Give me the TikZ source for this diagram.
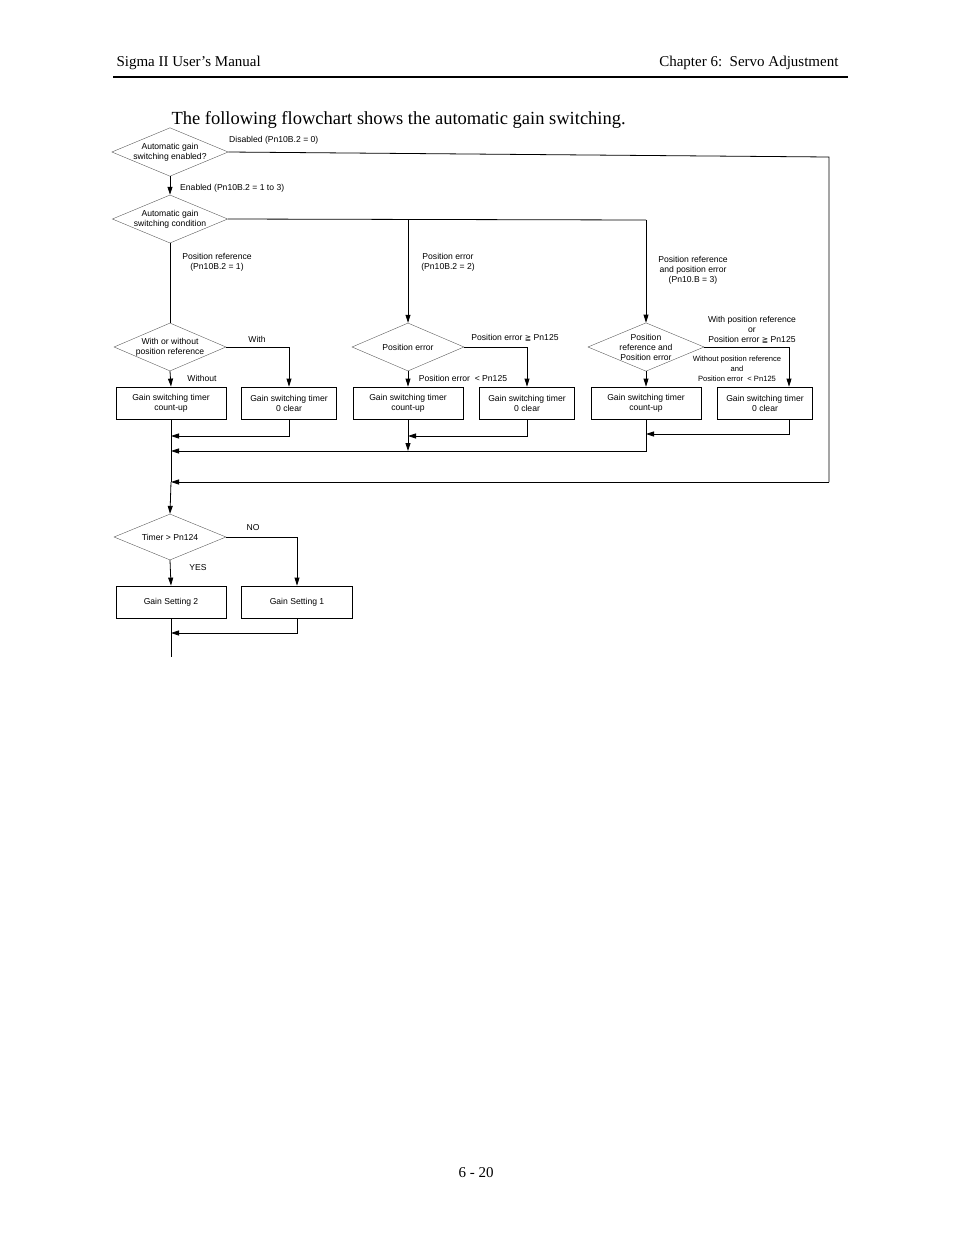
\documentclass[tikz,border=0pt]{standalone}
\usepackage{fontspec}
\setmainfont{Liberation Serif}
\newfontfamily\fcfont{Liberation Sans}
\newfontfamily\symfont{DejaVu Sans}
\usetikzlibrary{shapes.geometric,arrows.meta}
\begin{document}
\begin{tikzpicture}[x=1pt,y=-1pt,
  fc/.style={font=\fcfont\fontsize{8.6}{10}\selectfont,align=center,inner sep=0pt},
  dia/.style={fc,shape=diamond,draw=black!70,line width=0.35pt,minimum width=112pt,minimum height=46pt,shape aspect=2.4},
  bx/.style={fc,draw,line width=0.8pt,minimum width=110pt,minimum height=32pt},
  bxs/.style={bx,minimum width=95pt},
  ln/.style={line width=0.8pt},
  ar/.style={ln,-{Triangle[length=8pt,width=5pt]}},
  lb/.style={fc},
  lbs/.style={fc,font=\fcfont\fontsize{7.6}{10}\selectfont}]
\useasboundingbox (0,0) rectangle (954,1235);
\node[anchor=base west,font=\fontsize{15}{18}\selectfont] (h1) at (113,66) {Sigma II User’s Manual};
\node[anchor=base east,font=\fontsize{15}{18}\selectfont] (h2) at (842,66) {Chapter 6:\ \ Servo Adjustment};
\draw[line width=1.2pt] (113,77) -- (848,77);
\node[anchor=base west,font=\fontsize{18.5}{22}\selectfont] (title) at (168,124) {The following flowchart shows the automatic gain switching.};
\node[font=\fontsize{15}{18}\selectfont] (foot) at (476,1173) {6 - 20};

% diamonds
\node[dia] (d1) at (170,152) {Automatic gain\\switching enabled?};
\node[dia] (d2) at (170,219) {Automatic gain\\switching condition};
\node[dia,minimum height=48pt] (d3) at (170,347) {With or without\\position reference};
\node[dia,minimum height=48pt] (d4) at (408,347) {Position error};
\node[dia,minimum height=48pt] (d5) at (646,347) {Position\\reference and\\Position error};
\node[dia] (d6) at (170,537) {Timer > Pn124};

% boxes
\node[bx] (b1) at (171,403) {Gain switching timer\\count-up};
\node[bxs] (b2) at (289,403) {Gain switching timer\\0 clear};
\node[bx] (b3) at (408,403) {Gain switching timer\\count-up};
\node[bxs] (b4) at (527,403) {Gain switching timer\\0 clear};
\node[bx] (b5) at (646,403) {Gain switching timer\\count-up};
\node[bxs] (b6) at (765,403) {Gain switching timer\\0 clear};
\node[bx] (g2) at (171,602) {Gain Setting 2};
\node[bxs,minimum width=111pt] (g1) at (297,602) {Gain Setting 1};

% coordinates
\coordinate (r1) at (829,157);
\coordinate (r2) at (829,482);
\coordinate (m482) at (171,482);
\coordinate (c408) at (408,220);
\coordinate (c646) at (646,220);
\coordinate (j436) at (171,436);
\coordinate (k436) at (408,436);
\coordinate (j451) at (171,451);
\coordinate (k451) at (408,451);
\coordinate (p434) at (646,434);
\coordinate (p451) at (646,451);
\coordinate (y633) at (171,633);
\coordinate (end) at (171,657);

% connectors
\draw[ln] (d1.east) -- (r1) -- (r2);
\draw[ar] (r2) -- (m482);
\draw[ar] (d1.south) -- (d2.north);
\draw[ln] (d2.east) -- (c646);
\draw[ar] (c408) -- (d4.north);
\draw[ar] (c646) -- (d5.north);
\draw[ln] (d2.south) -- (d3.north);
\draw[ar] (d3.east) -| (b2.north);
\draw[ar] (d3.south) -- (b1.north);
\draw[ar] (d4.east) -| (b4.north);
\draw[ar] (d4.south) -- (b3.north);
\draw[ar] (d5.east) -| ([xshift=24pt]b6.north);
\draw[ar] (d5.south) -- (b5.north);
\draw[ln] (b1.south) -- (m482);
\draw[ar] (m482) -- (d6.north);
\draw[ar] (b2.south) |- (j436);
\draw[ar] (b4.south) |- (k436);
\draw[ar] (b3.south) -- (k451);
\draw[ar] ([xshift=24pt]b6.south) |- (p434);
\draw[ar] (b5.south) -- (p451) -- (j451);
\draw[ar] (d6.east) -| (g1.north);
\draw[ar] (d6.south) -- (g2.north);
\draw[ar] (g1.south) |- (y633);
\draw[ln] (g2.south) -- (end);

% labels
\node[lb,anchor=west] (l1) at (229,140) {Disabled (Pn10B.2 = 0)};
\node[lb,anchor=west] (l2) at (180,188) {Enabled (Pn10B.2 = 1 to 3)};
\node[lb] (l3) at (217,262) {Position reference\\(Pn10B.2 = 1)};
\node[lb] (l4) at (448,262) {Position error\\(Pn10B.2 = 2)};
\node[lb] (l5) at (693,270) {Position reference\\and position error\\(Pn10.B = 3)};
\node[lb] (l6) at (257,339) {With};
\node[lb] (l7) at (202,378) {Without};
\node[lb] (l8) at (515,338) {Position error {\symfont\fontsize{7.6}{9}\selectfont ≧} Pn125};
\node[lb] (l9) at (463,378) {Position error\ \ < Pn125};
\node[lb] (l10) at (752,330) {With position reference\\or\\Position error {\symfont\fontsize{7.6}{9}\selectfont ≧} Pn125};
\node[lbs] (l11) at (737,369) {Without position reference\\and\\Position error\ \ < Pn125};
\node[lb] (l12) at (253,528) {NO};
\node[lb] (l13) at (198,568) {YES};
\end{tikzpicture}
\end{document}
